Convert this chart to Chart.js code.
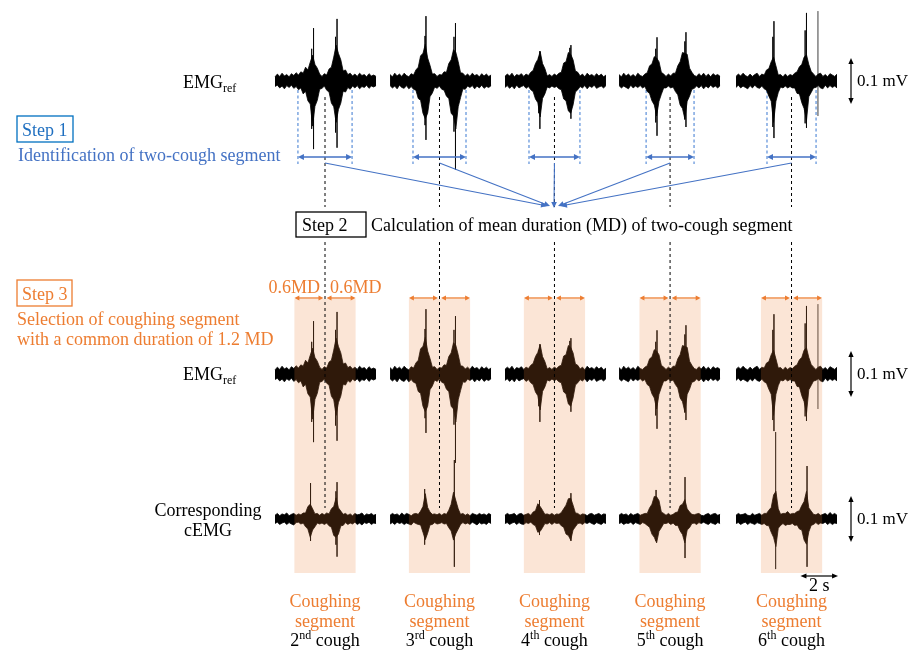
<!DOCTYPE html>
<html>
<head>
<meta charset="utf-8">
<script src="https://cdn.jsdelivr.net/npm/chart.js@4.4.0/dist/chart.umd.min.js"></script>
<style>
  html, body { margin: 0; padding: 0; background: #ffffff; }
  #wrap { width: 910px; height: 650px; position: relative; }
</style>
</head>
<body>
<div id="wrap"><canvas id="c" width="910" height="650"></canvas></div>
<script>
// ---- Recording excerpts: envelope samples every 0.125 s, values in µV ----
const DT = 0.125;                                   // s between samples
const coughNumber = ['2', '3', '4', '5', '6'];
const coughSuffix = ['nd', 'rd', 'th', 'th', 'th'];
// start of each excerpt on the shared display time line (s)
const segmentStart = [0, 6.12, 12.23, 18.30, 24.52];
// two-cough segment limits inside each excerpt (s)
const twoCoughStart = [1.22, 1.22, 1.28, 1.44, 1.65];
const twoCoughEnd   = [4.10, 4.04, 3.99, 3.99, 4.26];

// EMGref upper / lower envelopes (µV)
const refUp2 = [9,15,10,17,11,14,9,16,12,18,13,20,17,30,24,41,56,36,28,15,10,16,13,26,30,52,78,60,46,22,24,14,17,11,15,10,17,12,14,9,16,11,13,10];
const refLo2 = [-12,-9,-15,-11,-17,-10,-14,-9,-16,-12,-19,-15,-28,-22,-43,-50,-98,-55,-42,-18,-16,-11,-20,-24,-48,-56,-90,-62,-48,-22,-24,-14,-18,-11,-15,-10,-17,-12,-14,-9,-16,-11,-13,-10];
const refUp3 = [14,9,17,11,15,10,17,12,9,16,13,24,30,55,60,80,50,34,15,16,10,14,13,20,19,38,46,68,62,42,18,17,11,15,10,17,12,14,9,16,11,15,10,13];
const refLo3 = [-10,-15,-11,-17,-9,-14,-16,-10,-17,-12,-18,-20,-38,-42,-70,-82,-70,-34,-26,-13,-16,-11,-18,-20,-33,-38,-70,-76,-104,-56,-36,-17,-18,-11,-14,-10,-17,-11,-15,-9,-16,-12,-14,-10];
const refUp4 = [10,15,11,17,9,14,12,16,10,15,12,19,23,38,47,64,38,27,11,14,10,15,12,17,19,39,42,62,58,46,22,19,11,15,9,17,12,14,10,16,11,15,9,13];
const refLo4 = [-14,-10,-16,-11,-17,-9,-15,-12,-10,-16,-12,-19,-23,-39,-47,-78,-38,-28,-13,-15,-11,-14,-12,-17,-19,-39,-43,-65,-70,-52,-24,-19,-12,-15,-10,-17,-11,-14,-9,-16,-13,-11,-15,-10];
const refUp5 = [14,9,17,11,15,10,14,9,17,12,10,15,18,33,37,53,50,42,19,15,10,15,11,17,17,33,42,62,60,58,28,19,12,10,16,11,17,10,15,9,16,12,14,10];
const refLo5 = [-10,-15,-11,-14,-17,-9,-15,-11,-14,-10,-15,-12,-23,-27,-43,-52,-76,-44,-29,-15,-15,-11,-15,-13,-23,-30,-52,-60,-82,-44,-33,-18,-16,-11,-15,-10,-17,-11,-15,-9,-14,-11,-15,-10];
const refUp6 = [10,15,11,17,12,9,15,10,14,17,10,15,13,24,27,42,52,33,13,14,9,15,10,14,12,17,20,31,36,52,57,36,21,15,10,15,17,10,14,9,16,13,10,15];
const refLo6 = [-14,-9,-15,-11,-14,-17,-10,-15,-9,-14,-16,-11,-17,-20,-33,-44,-90,-44,-25,-13,-15,-11,-15,-12,-15,-15,-27,-28,-47,-60,-86,-34,-25,-15,-14,-10,-15,-17,-9,-15,-10,-14,-11,-15];

// cEMG upper / lower envelopes (µV)
const cemgUp2 = [8,12,7,11,9,13,7,10,12,8,11,9,13,13,27,32,22,11,12,8,12,9,13,11,22,27,46,24,17,10,12,8,11,7,12,9,10,13,7,11,9,12,8,10];
const cemgLo2 = [-10,-7,-12,-9,-7,-12,-8,-11,-13,-8,-7,-11,-9,-17,-22,-40,-24,-17,-9,-11,-9,-12,-9,-15,-18,-36,-40,-33,-15,-14,-8,-12,-9,-11,-7,-12,-9,-13,-8,-10,-7,-12,-9,-10];
const cemgUp3 = [8,12,9,11,7,13,8,12,10,7,11,12,10,17,27,55,25,15,10,11,9,12,8,12,10,19,32,58,40,22,10,12,8,11,7,12,10,8,12,9,11,8,12,9];
const cemgLo3 = [-11,-8,-12,-7,-10,-8,-12,-9,-11,-13,-7,-10,-12,-13,-29,-45,-31,-13,-12,-8,-11,-10,-8,-11,-10,-19,-26,-46,-32,-22,-12,-8,-11,-9,-12,-7,-10,-13,-8,-11,-9,-12,-7,-10];
const cemgUp4 = [8,12,9,10,12,7,11,12,8,10,12,8,15,18,33,27,19,10,11,9,12,8,11,10,14,22,30,44,45,30,13,12,8,11,10,7,11,12,8,10,12,8,11,10];
const cemgLo4 = [-10,-8,-12,-9,-7,-12,-8,-11,-12,-8,-10,-7,-12,-15,-29,-27,-19,-10,-11,-8,-12,-8,-10,-9,-15,-18,-33,-36,-46,-24,-17,-10,-9,-12,-8,-10,-7,-10,-12,-8,-10,-12,-8,-10];
const cemgUp5 = [8,12,9,11,7,12,8,10,12,8,10,12,12,24,32,49,48,40,15,12,8,12,8,10,14,15,29,32,42,22,15,10,9,11,12,8,7,10,12,8,11,12,8,10];
const cemgLo5 = [-10,-8,-12,-9,-10,-7,-12,-8,-10,-12,-8,-10,-14,-18,-33,-40,-52,-27,-19,-10,-10,-8,-12,-9,-14,-14,-26,-34,-52,-24,-19,-10,-9,-12,-8,-10,-7,-10,-12,-8,-10,-12,-8,-10];
const cemgUp6 = [8,12,9,10,12,8,7,12,8,10,12,8,12,12,19,25,52,60,22,10,12,12,16,10,12,12,16,18,29,38,60,24,17,10,9,12,8,10,12,8,14,9,12,8];
const cemgLo6 = [-10,-8,-12,-9,-7,-12,-8,-10,-12,-8,-10,-12,-10,-14,-15,-29,-40,-60,-20,-14,-10,-14,-12,-12,-10,-14,-13,-22,-24,-46,-55,-28,-14,-12,-8,-12,-9,-10,-7,-12,-8,-12,-9,-10];

// narrow spikes: [time in excerpt (s), peak µV, trough µV]
const refSpikes2 = [[1.95, 70, -104], [2.05, 115, -148], [3.22, 96, -112], [3.30, 135, -145]];
const refSpikes3 = [[1.86, 98, -96], [1.91, 141, -128], [3.40, 96, -110], [3.48, 126, -193]];
const refSpikes4 = [[1.80, 52, -70], [1.86, 65, -104], [3.45, 72, -64], [3.51, 78, -82]];
const refSpikes5 = [[1.95, 70, -90], [2.02, 95, -119], [3.50, 86, -84], [3.56, 106, -100]];
const refSpikes6 = [[1.96, 96, -100], [2.02, 130, -124], [3.68, 110, -92], [3.75, 148, -102]];
const refFaintSpikes6 = [[4.36, 152, -76]];
const cemgSpikes2 = [[1.89, 78, -48], [3.24, 60, -56], [3.30, 80, -82]];
const cemgSpikes3 = [[1.84, 65, -56], [3.42, 128, -104]];
const cemgSpikes4 = [[1.84, 41, -35], [3.51, 56, -48]];
const cemgSpikes5 = [[1.97, 63, -48], [3.51, 91, -85]];
const cemgSpikes6 = [[3.78, 115, -104]];
const cemgFaintSpikes6 = [[2.11, 189, -109]];

// ---- assembly ----
const refUp = [refUp2, refUp3, refUp4, refUp5, refUp6];
const refLo = [refLo2, refLo3, refLo4, refLo5, refLo6];
const cemgUp = [cemgUp2, cemgUp3, cemgUp4, cemgUp5, cemgUp6];
const cemgLo = [cemgLo2, cemgLo3, cemgLo4, cemgLo5, cemgLo6];
const refSpikes = [refSpikes2, refSpikes3, refSpikes4, refSpikes5, refSpikes6];
const cemgSpikes = [cemgSpikes2, cemgSpikes3, cemgSpikes4, cemgSpikes5, cemgSpikes6];

const durations = twoCoughEnd.map((e, i) => e - twoCoughStart[i]);
const MD = durations.reduce((a, b) => a + b, 0) / durations.length;   // mean duration (s)
const centreT = i => segmentStart[i] + (twoCoughStart[i] + twoCoughEnd[i]) / 2;

// vertical stacking of the three traces (µV offsets)
const ROW_TOP = 0, ROW_MID = -637, ROW_BOT = -952;

const datasets = [];
function addTrace(seg, up, lo, off) {
  const t0 = segmentStart[seg];
  datasets.push({
    data: up.map((v, i) => ({ x: t0 + i * DT, y: off + v })),
    borderColor: '#000', backgroundColor: '#000', borderWidth: 0.8, fill: '+1'
  });
  datasets.push({
    data: lo.map((v, i) => ({ x: t0 + i * DT, y: off + v })),
    borderColor: '#000', borderWidth: 0.8, fill: false
  });
}
function addSpikes(list, off, color) {
  const pts = [];
  list.forEach(([seg, s]) => s.forEach(([t, hi, lo]) => {
    const x = segmentStart[seg] + t;
    pts.push({ x, y: off + hi }, { x, y: off + lo }, { x, y: null });
  }));
  datasets.push({ data: pts, borderColor: color, borderWidth: 1, fill: false, spanGaps: false });
}
for (let k = 0; k < 5; k++) {
  addTrace(k, refUp[k], refLo[k], ROW_TOP);
  addTrace(k, refUp[k], refLo[k], ROW_MID);
  addTrace(k, cemgUp[k], cemgLo[k], ROW_BOT);
}
[ROW_TOP, ROW_MID].forEach(off => {
  addSpikes(refSpikes.map((s, k) => [k, s]), off, 'rgba(0,0,0,0.7)');
  addSpikes([[4, refFaintSpikes6]], off, 'rgba(0,0,0,0.3)');
});
addSpikes(cemgSpikes.map((s, k) => [k, s]), ROW_BOT, 'rgba(0,0,0,0.7)');
addSpikes([[4, cemgFaintSpikes6]], ROW_BOT, 'rgba(0,0,0,0.5)');

// ---- drawing helpers ----
const FONT = '"Liberation Serif", "Times New Roman", serif';
const FS = 18;
const ORANGE = '#ED7D31', BLUE = '#4472C4', BLUE_DARK = '#0070C0';

function head(ctx, x, y, ang, len, w) {
  ctx.beginPath();
  ctx.moveTo(x, y);
  ctx.lineTo(x - len * Math.cos(ang) + w * Math.sin(ang), y - len * Math.sin(ang) - w * Math.cos(ang));
  ctx.lineTo(x - len * Math.cos(ang) - w * Math.sin(ang), y - len * Math.sin(ang) + w * Math.cos(ang));
  ctx.closePath();
  ctx.fill();
}
function arrow(ctx, x1, y1, x2, y2, color, lw, both, len = 6, w = 3) {
  const ang = Math.atan2(y2 - y1, x2 - x1);
  ctx.save();
  ctx.strokeStyle = color; ctx.fillStyle = color; ctx.lineWidth = lw; ctx.setLineDash([]);
  ctx.beginPath();
  ctx.moveTo(both ? x1 + (len - 1) * Math.cos(ang) : x1, both ? y1 + (len - 1) * Math.sin(ang) : y1);
  ctx.lineTo(x2 - (len - 1) * Math.cos(ang), y2 - (len - 1) * Math.sin(ang));
  ctx.stroke();
  head(ctx, x2, y2, ang, len, w);
  if (both) head(ctx, x1, y1, ang + Math.PI, len, w);
  ctx.restore();
}
function dashed(ctx, x, y1, y2, color, lw, dash) {
  ctx.save();
  ctx.strokeStyle = color; ctx.lineWidth = lw; ctx.setLineDash(dash);
  ctx.beginPath(); ctx.moveTo(x, y1); ctx.lineTo(x, y2); ctx.stroke();
  ctx.restore();
}
function text(ctx, s, x, y, color, size, align = 'left') {
  ctx.save();
  ctx.font = size + 'px ' + FONT; ctx.fillStyle = color;
  ctx.textAlign = align; ctx.textBaseline = 'alphabetic';
  ctx.fillText(s, x, y);
  ctx.restore();
}
// text made of runs; run = [string, 'sup' | 'sub' | undefined]
function rich(ctx, runs, x, y, color, size, align = 'left') {
  ctx.save();
  ctx.fillStyle = color; ctx.textBaseline = 'alphabetic'; ctx.textAlign = 'left';
  const small = Math.round(size * 0.66);
  const widths = runs.map(([s, k]) => { ctx.font = (k ? small : size) + 'px ' + FONT; return ctx.measureText(s).width; });
  const total = widths.reduce((a, b) => a + b, 0);
  let cx = align === 'center' ? x - total / 2 : x;
  runs.forEach(([s, k], i) => {
    ctx.font = (k ? small : size) + 'px ' + FONT;
    const dy = k === 'sup' ? -size * 0.38 : k === 'sub' ? size * 0.22 : 0;
    ctx.fillText(s, cx, y + dy);
    cx += widths[i];
  });
  ctx.restore();
}
function box(ctx, x, y, w, h, color) {
  ctx.save(); ctx.strokeStyle = color; ctx.lineWidth = 1.3; ctx.setLineDash([]);
  ctx.strokeRect(x, y, w, h); ctx.restore();
}

const overlay = {
  id: 'overlay',
  beforeDatasetsDraw(chart) {
    const ctx = chart.ctx;
    const X = v => chart.scales.x.getPixelForValue(v);
    // two-cough segment limits on the top trace
    for (let k = 0; k < 5; k++) {
      const xa = X(segmentStart[k] + twoCoughStart[k]);
      const xb = X(segmentStart[k] + twoCoughEnd[k]);
      dashed(ctx, xa, 90, 164, '#5B8FD9', 1.2, [3, 2.5]);
      dashed(ctx, xb, 90, 164, '#5B8FD9', 1.2, [3, 2.5]);
    }
  },
  afterDatasetsDraw(chart) {
    const ctx = chart.ctx;
    const X = v => chart.scales.x.getPixelForValue(v);
    const Y = v => chart.scales.y.getPixelForValue(v);

    // selected coughing segments (centre ± 0.6 MD) over the lower two traces
    ctx.save();
    ctx.fillStyle = 'rgba(237,125,49,0.2)';
    for (let k = 0; k < 5; k++) {
      const xa = X(centreT(k) - 0.6 * MD), xb = X(centreT(k) + 0.6 * MD);
      ctx.fillRect(xa, 299, xb - xa, 274);
    }
    ctx.restore();

    for (let k = 0; k < 5; k++) {
      const xc = X(centreT(k));
      const xa = X(segmentStart[k] + twoCoughStart[k]);
      const xb = X(segmentStart[k] + twoCoughEnd[k]);
      // centre lines
      dashed(ctx, xc, 97, 207, '#000', 1, [3, 3]);
      dashed(ctx, xc, 242, 508, '#000', 1, [3, 3]);
      // two-cough duration arrow
      arrow(ctx, xa, 157, xb, 157, BLUE, 1.3, true, 6, 3);
      // 0.6 MD arrows
      const xs = X(centreT(k) - 0.6 * MD), xe = X(centreT(k) + 0.6 * MD);
      arrow(ctx, xs, 298, xc - 1.5, 298, ORANGE, 1.3, true, 5, 2.6);
      arrow(ctx, xc + 1.5, 298, xe, 298, ORANGE, 1.3, true, 5, 2.6);
      // bottom captions
      text(ctx, 'Coughing', xc, 607, ORANGE, FS, 'center');
      text(ctx, 'segment', xc, 627, ORANGE, FS, 'center');
      rich(ctx, [[coughNumber[k]], [coughSuffix[k], 'sup'], [' cough']], xc, 646, '#000', FS, 'center');
    }
    // arrows converging on step 2
    const targets = [[547, 206], [550, 206], [554, 208], [558, 206], [561, 206]];
    for (let k = 0; k < 5; k++) {
      const xc = X(centreT(k));
      arrow(ctx, xc, 163, targets[k][0], targets[k][1], BLUE, 1.1, false, 6, 2.8);
    }

    // scale bars: 0.1 mV and 2 s
    [ROW_TOP, ROW_MID, ROW_BOT].forEach(off => {
      arrow(ctx, 851, Y(off + 50), 851, Y(off - 50), '#000', 1.2, true, 6, 2.6);
      text(ctx, '0.1 mV', 857, Y(off) + 5, '#000', 17);
    });
    const x2a = X(segmentStart[4] + 3.43), x2b = X(segmentStart[4] + 3.43 + 2);
    arrow(ctx, x2a, 576, x2b, 576, '#000', 1.2, true, 6, 2.6);
    text(ctx, '2 s', (x2a + x2b) / 2, 591, '#000', FS, 'center');

    // row labels
    rich(ctx, [['EMG'], ['ref', 'sub']], 183, Y(ROW_TOP) + 7, '#000', FS);
    rich(ctx, [['EMG'], ['ref', 'sub']], 183, Y(ROW_MID) + 6, '#000', FS);
    text(ctx, 'Corresponding', 208, 516, '#000', FS, 'center');
    text(ctx, 'cEMG', 208, 536, '#000', FS, 'center');

    // step 1
    box(ctx, 17, 116, 56, 26, BLUE_DARK);
    text(ctx, 'Step 1', 22, 136, '#1F6FC0', FS);
    text(ctx, 'Identification of two-cough segment', 18, 161, BLUE, FS);
    // step 2
    ctx.save(); ctx.fillStyle = '#fff'; ctx.fillRect(296, 212, 70, 25); ctx.restore();
    box(ctx, 296, 212, 70, 25, '#000');
    text(ctx, 'Step 2', 302, 231, '#000', FS);
    text(ctx, 'Calculation of mean duration (MD) of two-cough segment', 371, 231, '#000', FS);
    // step 3
    box(ctx, 17, 280, 55, 26, ORANGE);
    text(ctx, 'Step 3', 22, 300, ORANGE, FS);
    text(ctx, 'Selection of coughing segment', 17, 325, ORANGE, FS);
    text(ctx, 'with a common duration of 1.2 MD', 17, 345, ORANGE, FS);
    const xc0 = X(centreT(0));
    text(ctx, '0.6MD', xc0 - 5, 293, ORANGE, FS, 'right');
    text(ctx, '0.6MD', xc0 + 5, 293, ORANGE, FS, 'left');
  }
};

new Chart(document.getElementById('c'), {
  type: 'line',
  data: { datasets },
  options: {
    responsive: false,
    animation: false,
    events: [],
    layout: { padding: 0 },
    elements: { point: { radius: 0 }, line: { tension: 0 } },
    plugins: { legend: { display: false }, tooltip: { enabled: false } },
    scales: {
      x: { type: 'linear', min: -14.628, max: 33.777, display: false },
      y: { type: 'linear', min: -1236.9, max: 176.1, display: false }
    }
  },
  plugins: [overlay]
});
</script>
</body>
</html>
